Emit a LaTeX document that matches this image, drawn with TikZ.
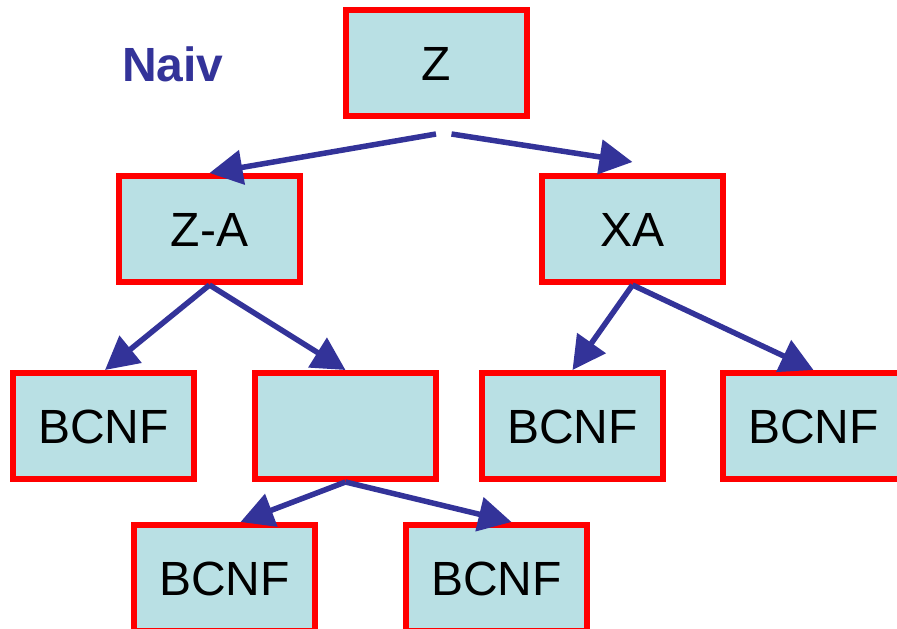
\documentclass[tikz,border=0pt]{standalone}
\usepackage{fontspec}
\setmainfont{Liberation Sans}
\usetikzlibrary{arrows.meta}
\definecolor{boxfill}{RGB}{185,224,228}
\definecolor{boxred}{RGB}{255,0,0}
\definecolor{arrblue}{RGB}{51,51,153}
\tikzset{
  tbox/.style={draw=boxred, fill=boxfill, line width=6pt, rectangle,
    minimum width=181pt, minimum height=106pt, inner sep=0pt,
    text height=35pt, text depth=0pt,
    font=\fontsize{48}{58}\selectfont},
  conn/.style={draw=arrblue, line width=5.5pt,
    -{Triangle[length=33pt,width=34pt]}},
}
\begin{document}
\begin{tikzpicture}[x=1pt,y=-1pt]
\useasboundingbox (0,0) rectangle (897,629);
\begin{scope}
\clip (0,0) rectangle (897,629);
\node[tbox] (Z)  at (436.5,63) {Z};
\node[tbox] (ZA) at (209.5,229) {Z-A};
\node[tbox] (XA) at (632.5,229) {XA};
\node[tbox] (B1) at (103.5,426) {BCNF};
\node[tbox] (E)  at (345.5,426) {};
\node[tbox] (B3) at (572.5,426) {BCNF};
\node[tbox] (B4) at (813.5,426) {BCNF};
\node[tbox] (B5) at (224.5,578) {BCNF};
\node[tbox] (B6) at (496.5,578) {BCNF};
\end{scope}
\node[anchor=base, text=arrblue, font=\bfseries\fontsize{48}{58}\selectfont] (naiv) at (173,81.7) {Naiv};
\coordinate (zl) at ([yshift=-15pt,xshift=-0.5pt]Z.south);
\coordinate (zr) at ([yshift=-15pt,xshift=15pt]Z.south);
\draw[conn] (zl) -- (ZA.north);
\draw[conn] (zr) -- ([yshift=11pt]XA.north);
\draw[conn] (ZA.south) -- ([xshift=1.5pt]B1.north);
\draw[conn] (ZA.south) -- (E.north);
\draw[conn] (XA.south) -- (B3.north);
\draw[conn] (XA.south) -- (B4.north);
\draw[conn] (E.south) -- ([xshift=16pt]B5.north);
\draw[conn] (E.south) -- ([xshift=15pt]B6.north);
\end{tikzpicture}
\end{document}
